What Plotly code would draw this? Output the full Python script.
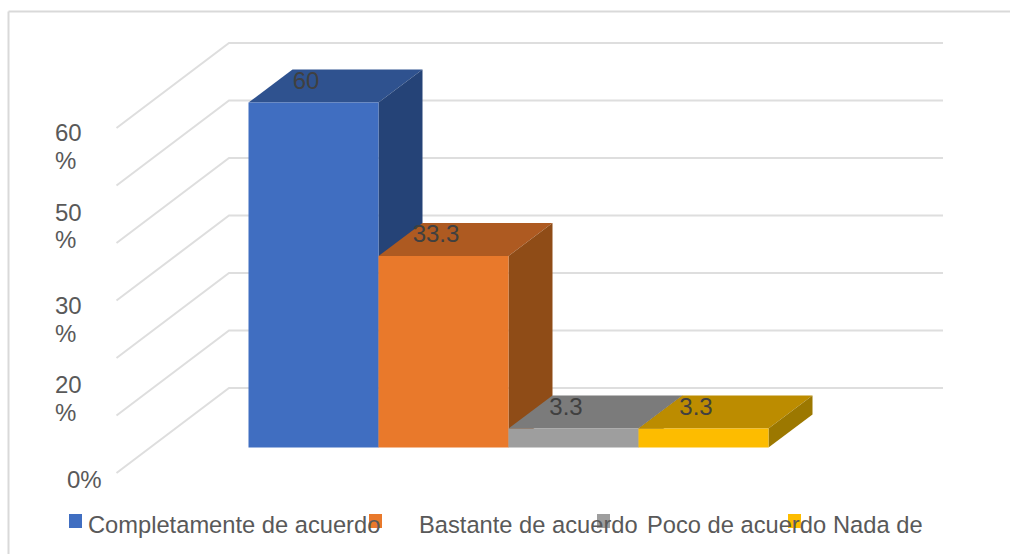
import plotly.graph_objects as go

categories = ["Completamente de acuerdo", "Bastante de acuerdo", "Poco de acuerdo", "Nada de"]
values = [60, 33.3, 3.3, 3.3]
value_labels = ["60", "33.3", "3.3", "3.3"]
grid_values = [0, 10, 20, 30, 40, 50, 60]
tick_labels = ["0%", "20 %", "30 %", "50 %", "60 %"]

front_colors = ["#406EC1", "#E9792B", "#9E9E9E", "#FDBC00"]
top_colors = ["#2F528F", "#AE5A21", "#7B7B7B", "#BC8C00"]
side_colors = ["#254377", "#8F4C17", "#636363", "#9C7800"]

W, H = 1010, 554
BAR_PX, UNIT_PX = 130.0, 5.75
X0_PX, Y0_PX = 248.5, 447.5
DEPTH_X, DEPTH_Y = 44 / BAR_PX, 33 / UNIT_PX
WALL_Y = (Y0_PX - 388) / UNIT_PX
WALL_L, WALL_R = (229 - X0_PX) / BAR_PX, (943 - X0_PX) / BAR_PX
FLOOR_DX, FLOOR_DY = 112.5 / BAR_PX, 85 / UNIT_PX

fig = go.Figure()


def poly(xs, ys, color):
    fig.add_trace(go.Scatter(x=xs + xs[:1], y=ys + ys[:1], mode="none", fill="toself",
                             fillcolor=color, hoverinfo="skip", showlegend=False))


for g in grid_values:
    yy = g + WALL_Y
    fig.add_trace(go.Scatter(x=[WALL_L - FLOOR_DX, WALL_L, WALL_R],
                             y=[yy - FLOOR_DY, yy, yy], mode="lines",
                             line=dict(color="#DEDEDE", width=2),
                             hoverinfo="skip", showlegend=False))

for i, v in enumerate(values):
    l, r = float(i), float(i + 1)
    poly([l, r, r + DEPTH_X, l + DEPTH_X], [v, v, v + DEPTH_Y, v + DEPTH_Y], top_colors[i])
    poly([r, r + DEPTH_X, r + DEPTH_X, r], [0, DEPTH_Y, v + DEPTH_Y, v], side_colors[i])
    poly([l, r, r, l], [0, 0, v, v], front_colors[i])

fig.add_trace(go.Scatter(x=[i + 0.5 - 7.5 / BAR_PX for i in range(len(values))],
                         y=[v + 20 / UNIT_PX for v in values],
                         text=value_labels, mode="text", textposition="middle center",
                         textfont=dict(family="Liberation Sans", size=24, color="#404040"),
                         hoverinfo="skip", showlegend=False))

annotations = []


def label(text, px, py, size, anchor="left"):
    annotations.append(dict(text=text, xref="paper", yref="paper", x=px / W, y=1 - py / H,
                            xanchor=anchor, yanchor="middle", showarrow=False, borderpad=0,
                            font=dict(family="Liberation Sans", size=size, color="#595959")))


tick_pos = [[(66, 479)], [(53.5, 384), (53.5, 412)], [(53.5, 305.5), (53.5, 333)],
            [(53.5, 212), (53.5, 240)], [(53.5, 133), (53.5, 160)]]
for text, places in zip(tick_labels, tick_pos):
    for part, (px, py) in zip(text.split(" "), places):
        label(part, px, py, 24)

legend_text_x = [87, 418, 645.5, 831.5]
legend_box_x = [69, 369, 597, 788]
shapes = [
    dict(type="line", xref="paper", yref="paper", x0=8.5 / W, x1=1, y0=1 - 11.5 / H, y1=1 - 11.5 / H,
         line=dict(color="#D9D9D9", width=2)),
    dict(type="line", xref="paper", yref="paper", x0=8.5 / W, x1=8.5 / W, y0=0, y1=1 - 11.5 / H,
         line=dict(color="#D9D9D9", width=2)),
]
for name, tx, bx, c in zip(categories, legend_text_x, legend_box_x, front_colors):
    label(name, tx, 524.5, 23.7)
    shapes.append(dict(type="rect", xref="paper", yref="paper", x0=bx / W, x1=(bx + 13) / W,
                       y0=1 - 528 / H, y1=1 - 514 / H, fillcolor=c, line=dict(width=0)))

fig.update_layout(
    width=W, height=H, margin=dict(l=0, r=0, t=0, b=0), showlegend=False,
    paper_bgcolor="white", plot_bgcolor="white",
    xaxis=dict(visible=False, range=[-X0_PX / BAR_PX, (W - X0_PX) / BAR_PX]),
    yaxis=dict(visible=False, range=[(Y0_PX - H) / UNIT_PX, Y0_PX / UNIT_PX]),
    annotations=annotations, shapes=shapes,
)
fig.write_html("out.html", config=dict(displayModeBar=False),
               post_script="document.body.style.margin='0';document.documentElement.style.overflow='hidden';")
